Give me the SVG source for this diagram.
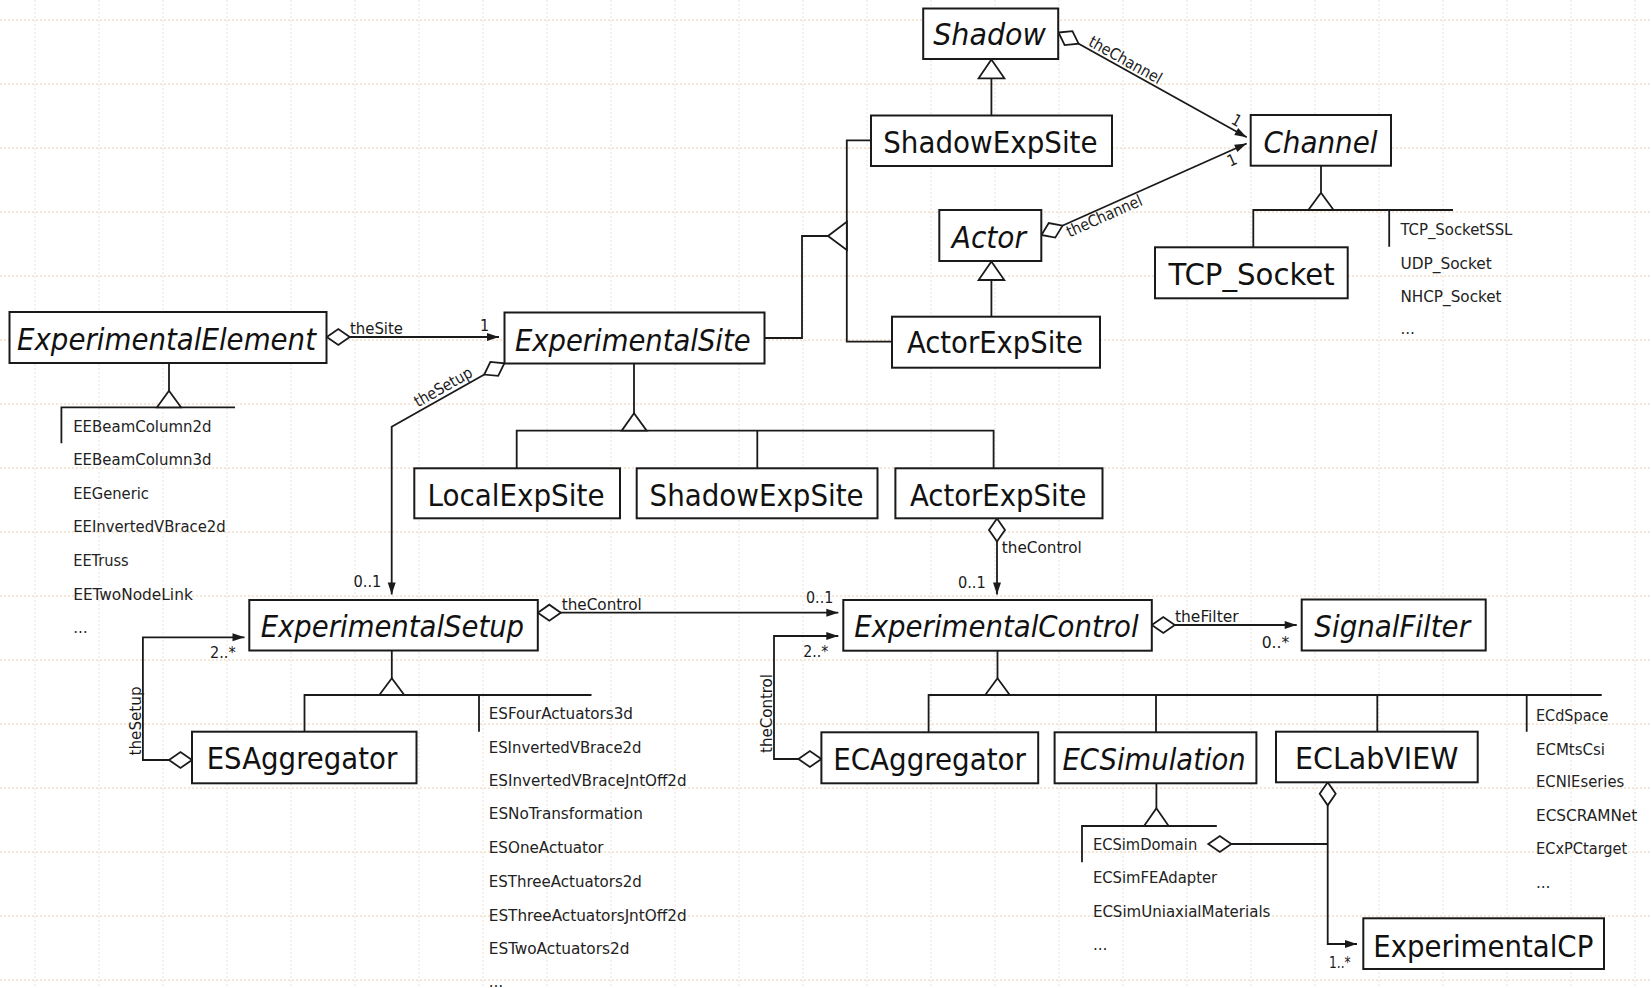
<svg xmlns="http://www.w3.org/2000/svg" width="1651" height="988" viewBox="0 0 1651 988">
<style>
text{font-family:"DejaVu Sans Condensed","DejaVu Sans",sans-serif}
.box{fill:#fff;stroke:#1a1a1a;stroke-width:2}
.lbl{font-size:30px;fill:#111;text-anchor:middle}
.it{font-style:italic}
.sm{font-size:16px;fill:#1a1a1a}
.li{font-size:16px;fill:#222}
.ln{fill:none;stroke:#1a1a1a;stroke-width:1.8}
.tri{fill:#fff;stroke:#1a1a1a;stroke-width:1.8;stroke-linejoin:miter}
.as{fill:none;stroke:#1a1a1a;stroke-width:1.8;marker-start:url(#dia);marker-end:url(#arr)}
.gh{fill:none;stroke:#f1dfc8;stroke-width:1.5;stroke-dasharray:2 2}
.gv{fill:none;stroke:#ece3d9;stroke-width:1;stroke-dasharray:2 2}
</style>
<defs>
<marker id="arr" markerUnits="userSpaceOnUse" viewBox="0 -5 13 10" markerWidth="13" markerHeight="10" refX="12" refY="0" orient="auto" overflow="visible"><path d="M0,-4 L12,0 L0,4 z" fill="#1a1a1a"/></marker>
<marker id="dia" markerUnits="userSpaceOnUse" viewBox="-1 -9 25 18" markerWidth="25" markerHeight="18" refX="0" refY="0" orient="auto" overflow="visible"><path d="M0,0 L11.5,-8 L23,0 L11.5,8 z" fill="#fff" stroke="#1a1a1a" stroke-width="1.8"/></marker>
</defs>
<rect width="1651" height="988" fill="#fff"/>
<g id="grid">
<path class="gh" d="M0,20H1651M0,84H1651M0,148H1651M0,212H1651M0,276H1651M0,340H1651M0,404H1651M0,468H1651M0,532H1651M0,596H1651M0,660H1651M0,724H1651M0,788H1651M0,852H1651M0,916H1651M0,980H1651"/>
<path class="gv" d="M35,0V988M99,0V988M163,0V988M227,0V988M291,0V988M355,0V988M419,0V988M483,0V988M547,0V988M611,0V988M675,0V988M739,0V988M803,0V988M867,0V988M931,0V988M995,0V988M1059,0V988M1123,0V988M1187,0V988M1251,0V988M1315,0V988M1379,0V988M1443,0V988M1507,0V988M1571,0V988M1635,0V988"/>
</g>
<g id="connectors">
<!-- generalization lines -->
<path class="ln" d="M169,363V390.7M61.4,443.3V407.3H235"/>
<path class="ln" d="M634,363.3V413.3M516.7,468.3V430.7H993.6V468.3M757.3,430.7V468.3"/>
<path class="ln" d="M991.4,78.3V115.5"/>
<path class="ln" d="M991.4,280V316.7"/>
<path class="ln" d="M764.5,338H802V236H828M870.7,140.3H846.8V341.7H892"/>
<path class="ln" d="M1321,165.7V192.7M1253.3,247.3V210H1453M1389.2,210V246.7"/>
<path class="ln" d="M391.8,650.5V678.3M304.5,731.7V695H591.5M479,695V731.7"/>
<path class="ln" d="M997.5,650.7V678.3M928.6,732.3V695H1601.7M1156,695V732.3M1377.3,695V731.7M1526.7,695V731.7"/>
<path class="ln" d="M1156.4,783.3V808.3M1082,862.3V826H1216.8"/>
<polygon class="tri" points="169,390.7 157,407.3 181,407.3"/>
<polygon class="tri" points="634,413.3 621.7,430.7 646.7,430.7"/>
<polygon class="tri" points="991.4,59.5 978.6,78.3 1004.4,78.3"/>
<polygon class="tri" points="991.4,261.5 978.6,280 1004.3,280"/>
<polygon class="tri" points="828,236 846.8,221.7 846.8,250"/>
<polygon class="tri" points="1321,192.7 1308.3,210 1333.6,210"/>
<polygon class="tri" points="391.8,678.3 379.3,695 404.3,695"/>
<polygon class="tri" points="997.5,678.3 985.2,695 1009.8,695"/>
<polygon class="tri" points="1156.4,808.3 1144,826 1168.7,826"/>
<!-- associations -->
<path class="as" d="M326.8,337H499"/>
<path class="as" d="M504.3,363.3L391.7,426.7V594.5"/>
<path class="as" d="M537.8,612.7H838.3"/>
<path class="as" d="M192,760H142.9V637.3H244.5"/>
<path class="as" d="M821.4,759H774V636H838.3"/>
<path class="as" d="M997,518.5V594.5"/>
<path class="as" d="M1151.8,625H1296.7"/>
<path class="as" d="M1327.7,782.3V944H1357"/>
<path class="ln" style="marker-start:url(#dia)" d="M1208.3,844H1327.7"/>
<path class="as" d="M1058.5,32.5L1246.7,137.3"/>
<path class="as" d="M1041.5,235L1246.7,143.5"/>
<!-- association labels -->
<text class="sm" x="350" y="334" textLength="53" lengthAdjust="spacingAndGlyphs">theSite</text>
<text class="sm" x="480" y="330.7">1</text>
<text class="sm" transform="translate(418,407.5) rotate(-29.6)" textLength="64" lengthAdjust="spacingAndGlyphs">theSetup</text>
<text class="sm" x="353.6" y="586.7" textLength="27.8" lengthAdjust="spacingAndGlyphs">0..1</text>
<text class="sm" x="210" y="658.3" textLength="25.7" lengthAdjust="spacingAndGlyphs">2..*</text>
<text class="sm" transform="translate(141,721) rotate(-90)" text-anchor="middle" textLength="69" lengthAdjust="spacingAndGlyphs">theSetup</text>
<text class="sm" x="561.7" y="610" textLength="80" lengthAdjust="spacingAndGlyphs">theControl</text>
<text class="sm" x="806" y="602.7" textLength="27.3" lengthAdjust="spacingAndGlyphs">0..1</text>
<text class="sm" x="803.3" y="656.7" textLength="25" lengthAdjust="spacingAndGlyphs">2..*</text>
<text class="sm" transform="translate(771.5,713.5) rotate(-90)" text-anchor="middle" textLength="79" lengthAdjust="spacingAndGlyphs">theControl</text>
<text class="sm" x="1001.8" y="553.3" textLength="80" lengthAdjust="spacingAndGlyphs">theControl</text>
<text class="sm" x="957.9" y="588.3" textLength="27.8" lengthAdjust="spacingAndGlyphs">0..1</text>
<text class="sm" x="1175" y="621.7" textLength="63.6" lengthAdjust="spacingAndGlyphs">theFilter</text>
<text class="sm" x="1261.7" y="648.3" textLength="27.6" lengthAdjust="spacingAndGlyphs">0..*</text>
<text class="sm" x="1329" y="968.3" textLength="21.7" lengthAdjust="spacingAndGlyphs">1..*</text>
<text class="sm" transform="translate(1087.5,45) rotate(29.2)" textLength="81" lengthAdjust="spacingAndGlyphs">theChannel</text>
<text class="sm" transform="translate(1230,123) rotate(29)">1</text>
<text class="sm" transform="translate(1069.5,237.5) rotate(-24)" textLength="81" lengthAdjust="spacingAndGlyphs">theChannel</text>
<text class="sm" transform="translate(1230,167) rotate(-24)">1</text>
</g>
<g id="ExperimentalElement">
<rect class="box" x="9.5" y="312" width="317" height="51"/>
<text class="lbl it" x="166.5" y="350" textLength="299" lengthAdjust="spacingAndGlyphs">ExperimentalElement</text>
</g>
<g id="EE-list">
<text class="li" x="73.2" y="431.7" textLength="138.2" lengthAdjust="spacingAndGlyphs">EEBeamColumn2d</text>
<text class="li" x="73.2" y="465" textLength="138.2" lengthAdjust="spacingAndGlyphs">EEBeamColumn3d</text>
<text class="li" x="73.2" y="499" textLength="75.7" lengthAdjust="spacingAndGlyphs">EEGeneric</text>
<text class="li" x="73.2" y="532.3" textLength="152.5" lengthAdjust="spacingAndGlyphs">EEInvertedVBrace2d</text>
<text class="li" x="73.2" y="565.7" textLength="55.4" lengthAdjust="spacingAndGlyphs">EETruss</text>
<text class="li" x="73.2" y="600" textLength="119.6" lengthAdjust="spacingAndGlyphs">EETwoNodeLink</text>
<text class="li" x="73.2" y="633.3">…</text>
</g>
<g id="ExperimentalSite">
<rect class="box" x="504.5" y="312.5" width="260" height="51"/>
<text class="lbl it" x="632.8" y="350.7" textLength="235.7" lengthAdjust="spacingAndGlyphs">ExperimentalSite</text>
</g>
<g id="Shadow">
<rect class="box" x="923.2" y="8.5" width="135" height="50.5"/>
<text class="lbl it" x="989.5" y="45" textLength="112.5" lengthAdjust="spacingAndGlyphs">Shadow</text>
</g>
<g id="ShadowExpSite-top">
<rect class="box" x="871" y="115.5" width="241" height="50.5"/>
<text class="lbl" x="990.4" y="153.3" textLength="214.3" lengthAdjust="spacingAndGlyphs">ShadowExpSite</text>
</g>
<g id="Actor">
<rect class="box" x="939.3" y="210" width="102" height="51"/>
<text class="lbl it" x="988.9" y="248.3" textLength="74.2" lengthAdjust="spacingAndGlyphs">Actor</text>
</g>
<g id="ActorExpSite-top">
<rect class="box" x="892" y="316.7" width="208" height="51"/>
<text class="lbl" x="995" y="353.3" textLength="176" lengthAdjust="spacingAndGlyphs">ActorExpSite</text>
</g>
<g id="Channel">
<rect class="box" x="1250.7" y="115" width="140.3" height="50.7"/>
<text class="lbl it" x="1320.5" y="153.3" textLength="114.2" lengthAdjust="spacingAndGlyphs">Channel</text>
</g>
<g id="TCP_Socket">
<rect class="box" x="1155" y="247.3" width="192.7" height="51"/>
<text class="lbl" x="1251.6" y="285" textLength="166.2" lengthAdjust="spacingAndGlyphs">TCP_Socket</text>
</g>
<g id="Channel-list">
<text class="li" x="1400.4" y="235" textLength="112" lengthAdjust="spacingAndGlyphs">TCP_SocketSSL</text>
<text class="li" x="1400.4" y="268.5" textLength="91.4" lengthAdjust="spacingAndGlyphs">UDP_Socket</text>
<text class="li" x="1400.4" y="302" textLength="101.2" lengthAdjust="spacingAndGlyphs">NHCP_Socket</text>
<text class="li" x="1400.4" y="334">…</text>
</g>
<g id="LocalExpSite">
<rect class="box" x="414.3" y="468.3" width="205.7" height="50"/>
<text class="lbl" x="516" y="506" textLength="177" lengthAdjust="spacingAndGlyphs">LocalExpSite</text>
</g>
<g id="ShadowExpSite">
<rect class="box" x="636.7" y="468.3" width="240.8" height="50"/>
<text class="lbl" x="756.6" y="506" textLength="214" lengthAdjust="spacingAndGlyphs">ShadowExpSite</text>
</g>
<g id="ActorExpSite">
<rect class="box" x="895.4" y="468.3" width="207.1" height="50"/>
<text class="lbl" x="998.2" y="506" textLength="176.4" lengthAdjust="spacingAndGlyphs">ActorExpSite</text>
</g>
<g id="ExperimentalSetup">
<rect class="box" x="249.3" y="600" width="288.5" height="50.5"/>
<text class="lbl it" x="392.4" y="637.3" textLength="263.3" lengthAdjust="spacingAndGlyphs">ExperimentalSetup</text>
</g>
<g id="ExperimentalControl">
<rect class="box" x="843.3" y="600" width="308.5" height="50.7"/>
<text class="lbl it" x="996.5" y="637.3" textLength="284.3" lengthAdjust="spacingAndGlyphs">ExperimentalControl</text>
</g>
<g id="SignalFilter">
<rect class="box" x="1301.7" y="599.5" width="184" height="51"/>
<text class="lbl it" x="1392.2" y="637.3" textLength="155.7" lengthAdjust="spacingAndGlyphs">SignalFilter</text>
</g>
<g id="ESAggregator">
<rect class="box" x="192" y="731.7" width="224.5" height="51.6"/>
<text class="lbl" x="302" y="769.3" textLength="190.6" lengthAdjust="spacingAndGlyphs">ESAggregator</text>
</g>
<g id="ES-list">
<text class="li" x="488.8" y="719.3" textLength="144.2" lengthAdjust="spacingAndGlyphs">ESFourActuators3d</text>
<text class="li" x="488.8" y="752.7" textLength="152.7" lengthAdjust="spacingAndGlyphs">ESInvertedVBrace2d</text>
<text class="li" x="488.8" y="786" textLength="197.8" lengthAdjust="spacingAndGlyphs">ESInvertedVBraceJntOff2d</text>
<text class="li" x="488.8" y="819.3" textLength="154" lengthAdjust="spacingAndGlyphs">ESNoTransformation</text>
<text class="li" x="488.8" y="852.7" textLength="114.7" lengthAdjust="spacingAndGlyphs">ESOneActuator</text>
<text class="li" x="488.8" y="887.3" textLength="153" lengthAdjust="spacingAndGlyphs">ESThreeActuators2d</text>
<text class="li" x="488.8" y="920.7" textLength="197.8" lengthAdjust="spacingAndGlyphs">ESThreeActuatorsJntOff2d</text>
<text class="li" x="488.8" y="954" textLength="140.6" lengthAdjust="spacingAndGlyphs">ESTwoActuators2d</text>
<text class="li" x="488.8" y="986.5">…</text>
</g>
<g id="ECAggregator">
<rect class="box" x="821.4" y="732.3" width="216.8" height="51"/>
<text class="lbl" x="929.6" y="770" textLength="192.8" lengthAdjust="spacingAndGlyphs">ECAggregator</text>
</g>
<g id="ECSimulation">
<rect class="box" x="1054.6" y="732.3" width="201.8" height="51"/>
<text class="lbl it" x="1154.1" y="770" textLength="183.2" lengthAdjust="spacingAndGlyphs">ECSimulation</text>
</g>
<g id="ECSim-list">
<text class="li" x="1092.9" y="850" textLength="104.3" lengthAdjust="spacingAndGlyphs">ECSimDomain</text>
<text class="li" x="1092.9" y="883.3" textLength="124.3" lengthAdjust="spacingAndGlyphs">ECSimFEAdapter</text>
<text class="li" x="1092.9" y="916.7" textLength="177.5" lengthAdjust="spacingAndGlyphs">ECSimUniaxialMaterials</text>
<text class="li" x="1092.9" y="950">…</text>
</g>
<g id="ECLabVIEW">
<rect class="box" x="1276" y="731.7" width="201.7" height="50.6"/>
<text class="lbl" x="1376.7" y="769" textLength="163.3" lengthAdjust="spacingAndGlyphs">ECLabVIEW</text>
</g>
<g id="EC-list">
<text class="li" x="1536" y="720.7" textLength="72.3" lengthAdjust="spacingAndGlyphs">ECdSpace</text>
<text class="li" x="1536" y="755" textLength="69" lengthAdjust="spacingAndGlyphs">ECMtsCsi</text>
<text class="li" x="1536" y="787.3" textLength="88.3" lengthAdjust="spacingAndGlyphs">ECNIEseries</text>
<text class="li" x="1536" y="820.7" textLength="101.3" lengthAdjust="spacingAndGlyphs">ECSCRAMNet</text>
<text class="li" x="1536" y="854" textLength="91.3" lengthAdjust="spacingAndGlyphs">ECxPCtarget</text>
<text class="li" x="1536" y="888.3">…</text>
</g>
<g id="ExperimentalCP">
<rect class="box" x="1363.3" y="918.3" width="240.7" height="50.7"/>
<text class="lbl" x="1483.3" y="956.7" textLength="220" lengthAdjust="spacingAndGlyphs">ExperimentalCP</text>
</g>
</svg>
